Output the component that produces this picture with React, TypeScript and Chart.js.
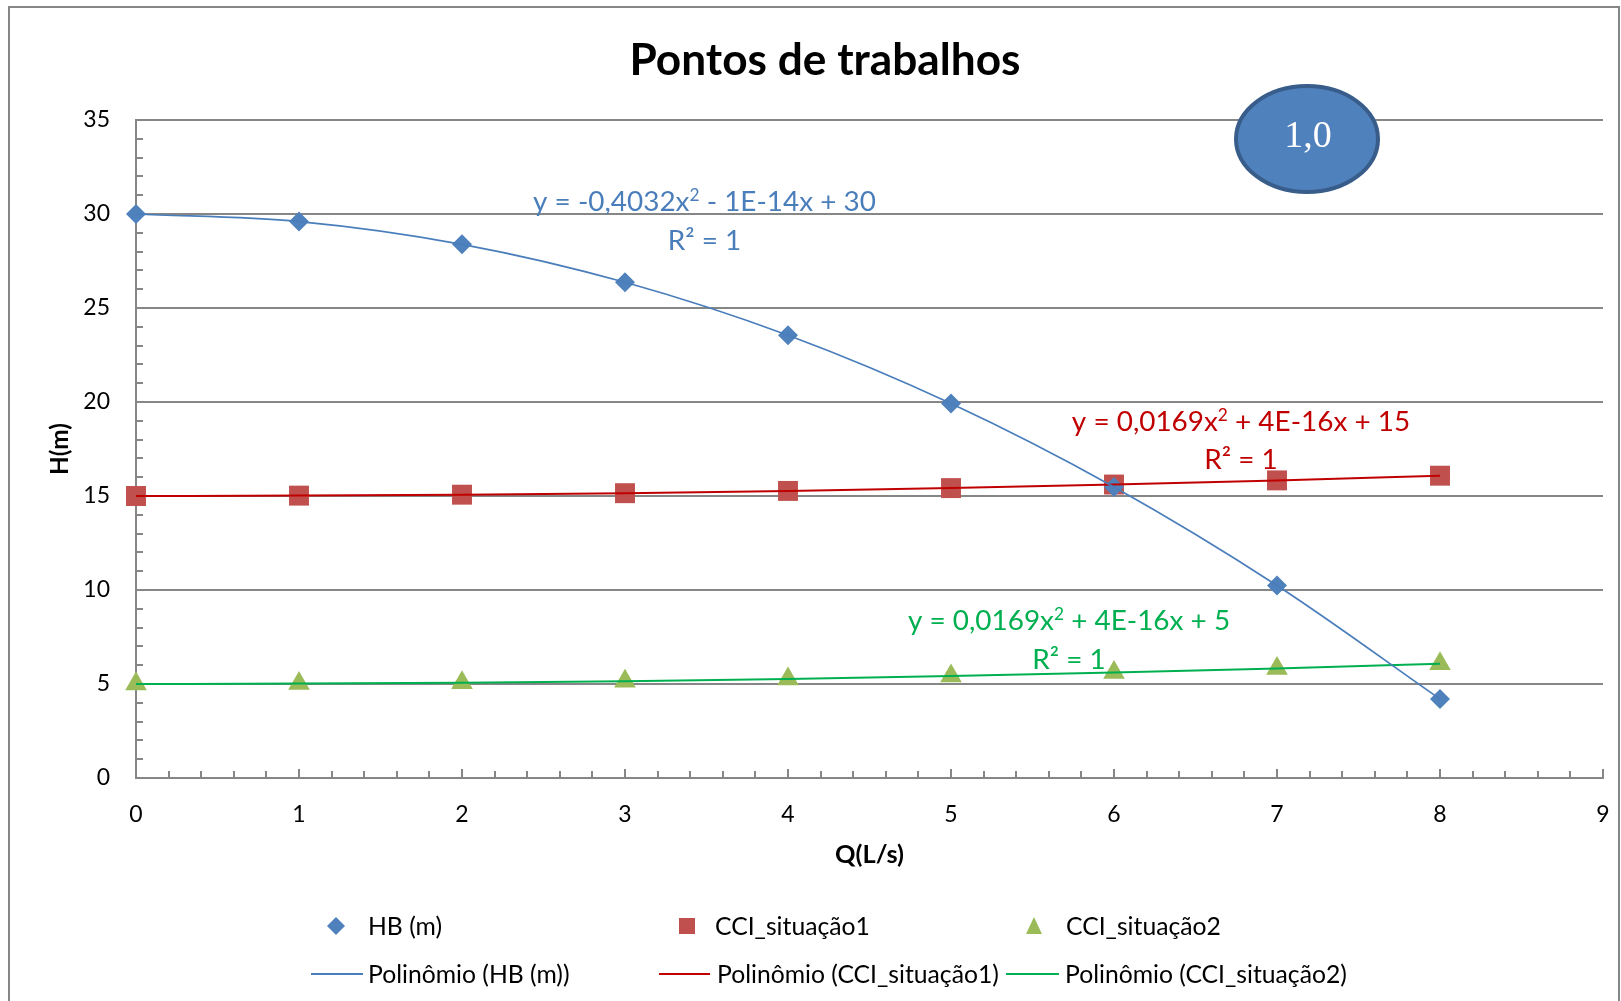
import { useEffect, useRef } from "react";
import { Chart, registerables } from "chart.js";

Chart.register(...registerables);

// ---------- data ----------
const Q = [0, 1, 2, 3, 4, 5, 6, 7, 8];
const HB = [30, 29.6, 28.39, 26.37, 23.55, 19.92, 15.48, 10.24, 4.2];
const CCI1 = [15, 15.02, 15.07, 15.15, 15.27, 15.42, 15.61, 15.83, 16.08];
const CCI2 = [5, 5.02, 5.07, 5.15, 5.27, 5.42, 5.61, 5.83, 6.08];

const X_MIN = 0;
const X_MAX = 9;
const X_STEP = 1;
const Y_MIN = 0;
const Y_MAX = 35;
const Y_STEP = 5;

const TITLE = "Pontos de trabalhos";
const X_TITLE = "Q(L/s)";
const Y_TITLE = "H(m)";
const SERIES_NAMES = ["HB (m)", "CCI_situação1", "CCI_situação2"];
const TREND_NAMES = ["Polinômio (HB (m))", "Polinômio (CCI_situação1)", "Polinômio (CCI_situação2)"];
const EQ_PRE = ["y = -0,4032x", "y = 0,0169x", "y = 0,0169x"];
const EQ_POST = [" - 1E-14x + 30", " + 4E-16x + 15", " + 4E-16x + 5"];
const R2_TEXT = "R² = 1";
const BADGE = "1,0";

// ---------- styles ----------
const W = 1621;
const H = 1001;
const FONT = "Lato, 'Noto Sans', sans-serif";
const GRID = "#868686";
const MARKER_COLORS = ["#4F81BD", "#C0504D", "#9BBB59"];
const TREND_COLORS = ["#4A7EBB", "#C00000", "#00B050"];
const TEXT_COLORS = ["#4A7EBB", "#C00000", "#00B050"];

function fitSize(c: CanvasRenderingContext2D, text: string, width: number, weight = "normal", family = FONT) {
  c.font = `${weight} 100px ${family}`;
  return (100 * width) / c.measureText(text).width;
}

function eqWidth(c: CanvasRenderingContext2D, i: number, size: number) {
  c.font = `${size}px ${FONT}`;
  const w1 = c.measureText(EQ_PRE[i]).width;
  const w3 = c.measureText(EQ_POST[i]).width;
  c.font = `${size * 0.62}px ${FONT}`;
  const w2 = c.measureText("2").width;
  return [w1, w2, w3];
}

function drawEq(c: CanvasRenderingContext2D, i: number, cx: number, baseline: number, size: number) {
  const [w1, w2, w3] = eqWidth(c, i, size);
  let x = cx - (w1 + w2 + w3) / 2;
  c.textAlign = "left";
  c.textBaseline = "alphabetic";
  c.fillStyle = TEXT_COLORS[i];
  c.font = `${size}px ${FONT}`;
  c.fillText(EQ_PRE[i], x, baseline);
  x += w1;
  c.font = `${size * 0.62}px ${FONT}`;
  c.fillText("2", x, baseline - size * 0.36);
  x += w2;
  c.font = `${size}px ${FONT}`;
  c.fillText(EQ_POST[i], x, baseline);
}

function drawMarker(c: CanvasRenderingContext2D, kind: number, x: number, y: number) {
  c.fillStyle = MARKER_COLORS[kind];
  c.beginPath();
  if (kind === 0) {
    const r = 9;
    c.moveTo(x - r, y);
    c.lineTo(x, y - r);
    c.lineTo(x + r, y);
    c.lineTo(x, y + r);
  } else if (kind === 1) {
    c.rect(x - 8, y - 8, 16, 16);
  } else {
    c.moveTo(x, y - 9);
    c.lineTo(x + 8, y + 8);
    c.lineTo(x - 8, y + 8);
  }
  c.closePath();
  c.fill();
}

const decor = {
  id: "decor",
  beforeDraw(chart: any) {
    const c = chart.ctx as CanvasRenderingContext2D;
    c.save();
    c.fillStyle = "#ffffff";
    c.fillRect(0, 0, W, H);
    c.restore();
  },
  beforeDatasetsDraw(chart: any) {
    const c = chart.ctx as CanvasRenderingContext2D;
    const x = chart.scales.x;
    const y = chart.scales.y;
    const a = chart.chartArea;
    c.save();
    c.strokeStyle = GRID;
    c.lineWidth = 2;
    c.beginPath();
    const nx = Math.round((X_MAX - X_MIN) / 0.2);
    for (let i = 0; i <= nx; i++) {
      const v = X_MIN + i * 0.2;
      const px = Math.round(x.getPixelForValue(v));
      const len = i % 5 === 0 ? 9 : 7;
      c.moveTo(px, a.bottom);
      c.lineTo(px, a.bottom - len);
    }
    for (let v = Y_MIN; v <= Y_MAX; v += 1) {
      if (v % Y_STEP === 0) continue;
      const py = Math.round(y.getPixelForValue(v));
      c.moveTo(a.left, py);
      c.lineTo(a.left + 7, py);
    }
    c.stroke();
    c.restore();
  },
  afterDraw(chart: any) {
    const c = chart.ctx as CanvasRenderingContext2D;
    c.save();
    // outer border
    c.strokeStyle = GRID;
    c.lineWidth = 2;
    c.strokeRect(9, 7, 1610, 1020);

    // title
    c.fillStyle = "#000";
    c.textAlign = "center";
    c.textBaseline = "alphabetic";
    const ts = fitSize(c, TITLE, 391, "bold");
    c.font = `bold ${ts}px ${FONT}`;
    c.fillText(TITLE, 825, 75);

    // axis titles
    const xs = fitSize(c, X_TITLE, 69, "bold");
    c.font = `bold ${xs}px ${FONT}`;
    c.fillText(X_TITLE, 869.5, 863);
    const ys = fitSize(c, Y_TITLE, 52, "bold");
    c.save();
    c.translate(68, 449);
    c.rotate(-Math.PI / 2);
    c.font = `bold ${ys}px ${FONT}`;
    c.fillText(Y_TITLE, 0, 0);
    c.restore();

    // equations
    const base = eqWidth(c, 0, 100);
    const es = (100 * 343) / (base[0] + base[1] + base[2]);
    const eqPos = [
      [704.5, 211, 250],
      [1241, 431, 469],
      [1069, 630, 669],
    ];
    eqPos.forEach((p, i) => {
      drawEq(c, i, p[0], p[1], es);
      c.font = `${es}px ${FONT}`;
      c.textAlign = "center";
      c.fillStyle = TEXT_COLORS[i];
      c.fillText(R2_TEXT, p[0], p[2]);
    });

    // badge ellipse
    c.beginPath();
    c.ellipse(1307, 139, 71, 53, 0, 0, Math.PI * 2);
    c.fillStyle = "#4F81BD";
    c.fill();
    c.lineWidth = 4;
    c.strokeStyle = "#385D8A";
    c.stroke();
    c.fillStyle = "#ffffff";
    c.font = `38px 'Liberation Serif', 'DejaVu Serif', serif`;
    c.textAlign = "center";
    c.textBaseline = "alphabetic";
    c.fillText(BADGE, 1308, 147);

    // legend
    const ls = fitSize(c, TREND_NAMES[2], 282);
    c.font = `${ls}px ${FONT}`;
    c.textAlign = "left";
    c.textBaseline = "middle";
    const markX = [336, 687, 1034];
    const textX1 = [368, 715, 1066];
    const lineX = [
      [311, 363],
      [659, 710],
      [1006, 1059],
    ];
    const textX2 = [368, 717, 1065];
    const row1 = 926;
    const row2 = 974;
    for (let i = 0; i < 3; i++) {
      drawMarker(c, i, markX[i], row1);
      c.fillStyle = "#000";
      c.fillText(SERIES_NAMES[i], textX1[i], row1 + 1);
      c.beginPath();
      c.moveTo(lineX[i][0], row2);
      c.lineTo(lineX[i][1], row2);
      c.strokeStyle = TREND_COLORS[i];
      c.lineWidth = 2;
      c.stroke();
      c.fillStyle = "#000";
      c.fillText(TREND_NAMES[i], textX2[i], row2 + 1);
    }
    c.restore();
  },
};

function pts(ys: number[]) {
  return Q.map((x, i) => ({ x, y: ys[i] }));
}

export default function App() {
  const ref = useRef<HTMLCanvasElement | null>(null);

  useEffect(() => {
    if (!ref.current) return;
    Chart.defaults.font.family = FONT;
    const series = [HB, CCI1, CCI2];
    const styles = ["rectRot", "rect", "triangle"];
    const radii = [10, 14.1, 12.5];
    const trendWidths = [1.75, 2, 2];
    const trendSets = series.map((s, i) => ({
      label: TREND_NAMES[i],
      data: pts(s),
      showLine: true,
      borderColor: TREND_COLORS[i],
      backgroundColor: TREND_COLORS[i],
      borderWidth: trendWidths[i],
      pointRadius: 0,
      pointHoverRadius: 0,
      cubicInterpolationMode: "monotone" as const,
      clip: false as any,
    }));
    const markerSets = series.map((s, i) => ({
      label: SERIES_NAMES[i],
      data: pts(s),
      showLine: false,
      pointStyle: styles[i] as any,
      pointRadius: radii[i],
      pointHoverRadius: radii[i],
      backgroundColor: MARKER_COLORS[i],
      borderColor: MARKER_COLORS[i],
      borderWidth: 0,
      clip: false as any,
    }));

    const chart = new Chart(ref.current, {
      type: "scatter",
      data: { datasets: [...trendSets, ...markerSets] as any },
      options: {
        animation: false,
        responsive: false,
        devicePixelRatio: 1,
        events: [],
        layout: { padding: { left: 0, right: 18, top: 120, bottom: 143 } },
        plugins: {
          legend: { display: false },
          title: { display: false },
          tooltip: { enabled: false },
        },
        scales: {
          x: {
            type: "linear",
            min: X_MIN,
            max: X_MAX,
            afterFit: (s: any) => {
              s.height = 80;
              s.paddingLeft = 0;
              s.paddingRight = 0;
            },
            ticks: {
              stepSize: X_STEP,
              color: "#000",
              padding: 23,
              font: { size: 23, family: FONT },
            },
            grid: { display: false, drawTicks: false },
            border: { display: true, color: GRID, width: 2 },
          },
          y: {
            type: "linear",
            min: Y_MIN,
            max: Y_MAX,
            afterFit: (s: any) => {
              s.width = 136;
              s.paddingTop = 0;
              s.paddingBottom = 0;
            },
            ticks: {
              stepSize: Y_STEP,
              color: "#000",
              padding: 26,
              font: { size: 23, family: FONT },
            },
            grid: { display: true, drawTicks: false, color: GRID, lineWidth: 2 },
            border: { display: true, color: GRID, width: 2 },
          },
        },
      },
      plugins: [decor],
    });
    return () => chart.destroy();
  }, []);

  return (
    <canvas
      ref={ref}
      width={W}
      height={H}
      style={{ position: "fixed", left: 0, top: 0, width: W, height: H }}
    />
  );
}
